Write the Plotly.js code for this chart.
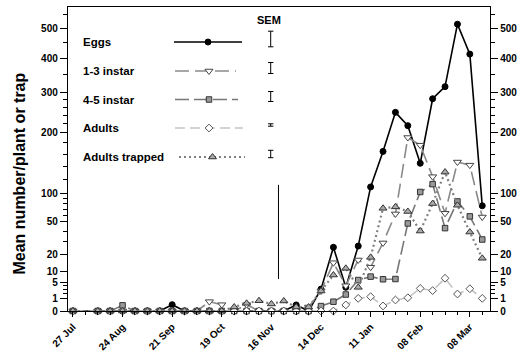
<!DOCTYPE html>
<html><head><meta charset="utf-8">
<script src="https://cdn.plot.ly/plotly-3.0.1.min.js"></script>
<style>html,body{margin:0;padding:0;background:#fff}#chart{width:530px;height:351px}</style>
</head><body><div id="chart"></div>
<script>
// sampling dates (1998/99 season)
const sampleDates = ['1998-07-27','1998-08-10','1998-08-17','1998-08-24','1998-08-31','1998-09-07','1998-09-14','1998-09-21','1998-09-28','1998-10-05','1998-10-12','1998-10-19','1998-10-26','1998-11-02','1998-11-09','1998-11-16','1998-11-23','1998-11-30','1998-12-07','1998-12-14','1998-12-21','1998-12-28','1999-01-04','1999-01-11','1999-01-18','1999-01-25','1999-02-01','1999-02-08','1999-02-15','1999-02-22','1999-03-01','1999-03-08','1999-03-15'];
const eggs      = [0,0,0,0,0,0,0,0.25,0,0,0,0,0,0,0,0,0,0.23,0,3.0,25.4,3.5,26.4,109,165,247,215,145,282,315,515,413,76];
const instar13  = [0,0,0,0,0,0,0,0,0,0,0.55,0.25,0,0.25,0,0,0,0,0.1,2.5,14.6,4.0,16.3,12,29,62,190,176,124,63,147,142,57];
const instar45  = [0,0,0,0.2,0,0,0,0,0,0,0,0,0,0,0,0,0,0,0,0.15,0.54,1.7,6.0,7.4,6.3,6.4,48,102,113,43,84,58,32];
const adults    = [0,0,0,0,0,0,0,0,0,0,0,0,0,0,0,0,0,0,0,0,0,0.23,1.0,1.28,0.16,0.76,1.1,3.2,2.6,6.7,1.8,3.1,1.0];
const trapped   = [0,0,0,0,0,0,0,0,0,0,0,0,0.1,0.37,0.66,0.31,0.63,0.1,0.1,2.5,8.1,11.4,3.5,18,71.5,74,66,40,80,131,77,39,17.4];

const seriesNames = ['Eggs','1-3 instar','4-5 instar','Adults','Adults trapped'];
const semHalf = [7.8,5.5,5.0,1.2,3.7];   // SEM bar half-heights shown in the key

const yTickVals = [0,1,5,10,20,50,100,200,300,400,500];
const yTickText = ['0','1','5','10','20','50','100','200','300','400','500'];
const yMinorVals = [2,3,4,30,40,60,70,80,90,120,140,160,180,220,240,260,280,350,450,550];

// square-root style axis as in the original (the 50-200 stretch is stretched/compressed around the 100 mark)
const S50 = Math.sqrt(50), S200 = Math.sqrt(200), S100 = 9.30;
function tf(v){
  const s = Math.sqrt(v);
  if (v <= 50 || v >= 200) return s;
  if (v <= 100) return S50 + (s - S50) / (10 - S50) * (S100 - S50);
  return S100 + (s - 10) / (S200 - 10) * (S200 - S100);
}
const tr = a => a.map(tf);
const FONT = 'Arial, "Liberation Sans", Helvetica, sans-serif';

const styles = [
  {line:{color:'#000',width:1.6,dash:'solid'}, marker:{symbol:'circle',size:6,color:'#000',line:{color:'#000',width:1}}},
  {line:{color:'#8a8a8a',width:1.6,dash:'14px,6px'}, marker:{symbol:'triangle-down',size:7,color:'#fff',line:{color:'#444',width:1}}},
  {line:{color:'#777',width:1.6,dash:'14px,5px'}, marker:{symbol:'square',size:5.5,color:'#999',line:{color:'#333',width:1}}},
  {line:{color:'#c4c4c4',width:1.6,dash:'10px,5px'}, marker:{symbol:'diamond',size:6,color:'#fff',line:{color:'#555',width:1}}},
  {line:{color:'#808080',width:2.2,dash:'2px,3px'}, marker:{symbol:'triangle-up',size:7,color:'#aaa',line:{color:'#333',width:1}}}
];
const values = [eggs, instar13, instar45, adults, trapped];

const traces = [];
values.forEach((v,i) => {
  traces.push({x: sampleDates, y: tr(v), type:'scatter', mode:'lines+markers', name: seriesNames[i],
    line: styles[i].line, marker: styles[i].marker, cliponaxis:false, showlegend:false, xaxis:'x', yaxis:'y'});
});
// right axis carrier
traces.push({x:[sampleDates[0]], y:[0], type:'scatter', mode:'markers', marker:{opacity:0}, xaxis:'x', yaxis:'y3', showlegend:false, hoverinfo:'skip'});

// key (in pixel-like overlay axes)
const keyRowY = [42, 71, 99.5, 128, 157];
const keyLineX = [[174,242],[175,236],[175,238],[175,243],[179,245]];
const keyMarkX = [208,209,209,209,212.5];
const annotations = [];
keyRowY.forEach((yy,i) => {
  traces.push({x: keyLineX[i], y:[yy,yy], xaxis:'x2', yaxis:'y2', type:'scatter', mode:'lines', line: styles[i].line, showlegend:false, hoverinfo:'skip', cliponaxis:false});
  traces.push({x:[keyMarkX[i]], y:[yy], xaxis:'x2', yaxis:'y2', type:'scatter', mode:'markers', marker: styles[i].marker, showlegend:false, hoverinfo:'skip', cliponaxis:false});
  traces.push({x:[270.7], y:[yy-3], xaxis:'x2', yaxis:'y2', type:'scatter', mode:'markers', marker:{size:1,opacity:0},
    error_y:{type:'data', array:[semHalf[i]], visible:true, color:'#000', thickness:1, width:2.7}, showlegend:false, hoverinfo:'skip', cliponaxis:false});
  annotations.push({xref:'x2', yref:'y2', x:80.5, y:yy, text:'<b>'+seriesNames[i]+'</b>', showarrow:false, xanchor:'left', yanchor:'middle', font:{family:FONT,size:11.5,color:'#000'}});
});
annotations.push({xref:'x2', yref:'y2', x:268.5, y:19.5, text:'<b>SEM</b>', showarrow:false, xanchor:'center', yanchor:'middle', font:{family:FONT,size:11,color:'#000'}});
// y-axis title (paper coords; plot area spans 68..490 px horizontally, 7..311 px vertically)
annotations.push({xref:'paper', yref:'paper', x:(18.5-68)/422, y:(311-174)/304, text:'<b>Mean number/plant or trap</b>', textangle:-90, showarrow:false, xanchor:'center', yanchor:'middle', font:{family:FONT,size:16,color:'#000'}});

const yAxisCommon = {
  range:[0, 24.05], tickmode:'array', tickvals: tr(yTickVals), ticktext: yTickText,
  ticks:'outside', ticklen:7, tickwidth:1, tickcolor:'#000', showline:true, linecolor:'#000', linewidth:1.2,
  showgrid:false, zeroline:false, tickfont:{family:FONT,size:10,color:'#000',weight:700},
  minor:{tickmode:'array', tickvals: tr(yMinorVals), ticks:'outside', ticklen:4, tickcolor:'#000', tickwidth:1, showgrid:false}
};

const layout = {
  width:530, height:351, margin:{l:68, r:40, t:7, b:40}, paper_bgcolor:'#fff', plot_bgcolor:'#fff',
  showlegend:false,
  xaxis:{type:'date', range:['1998-07-24 05:00','1999-03-19 09:00'], tick0:'1998-07-27', dtick:28*864e5, tickformat:'%d %b',
    tickangle:-45, ticks:'outside', ticklen:5, tickcolor:'#000', showline:true, linecolor:'#000', linewidth:1.2, mirror:true,
    showgrid:false, zeroline:false, tickfont:{family:FONT,size:10,color:'#000',weight:700},
    minor:{tick0:'1998-07-27', dtick:7*864e5, ticks:'outside', ticklen:3, tickcolor:'#000', showgrid:false}},
  yaxis: Object.assign({}, yAxisCommon, {side:'left'}),
  yaxis3: Object.assign({}, yAxisCommon, {side:'right', overlaying:'y', anchor:'x'}),
  xaxis2:{overlaying:'x', range:[68,490], visible:false, anchor:'y2'},
  yaxis2:{overlaying:'y', range:[311,7], visible:false, anchor:'x2'},
  shapes:[{type:'line', xref:'x', yref:'y', x0:'1998-11-20', x1:'1998-11-20', y0:tf(6.4), y1:tf(112), line:{color:'#000', width:1}}],
  annotations: annotations
};

Plotly.newPlot('chart', traces, layout, {staticPlot:true, displayModeBar:false});
</script></body></html>
